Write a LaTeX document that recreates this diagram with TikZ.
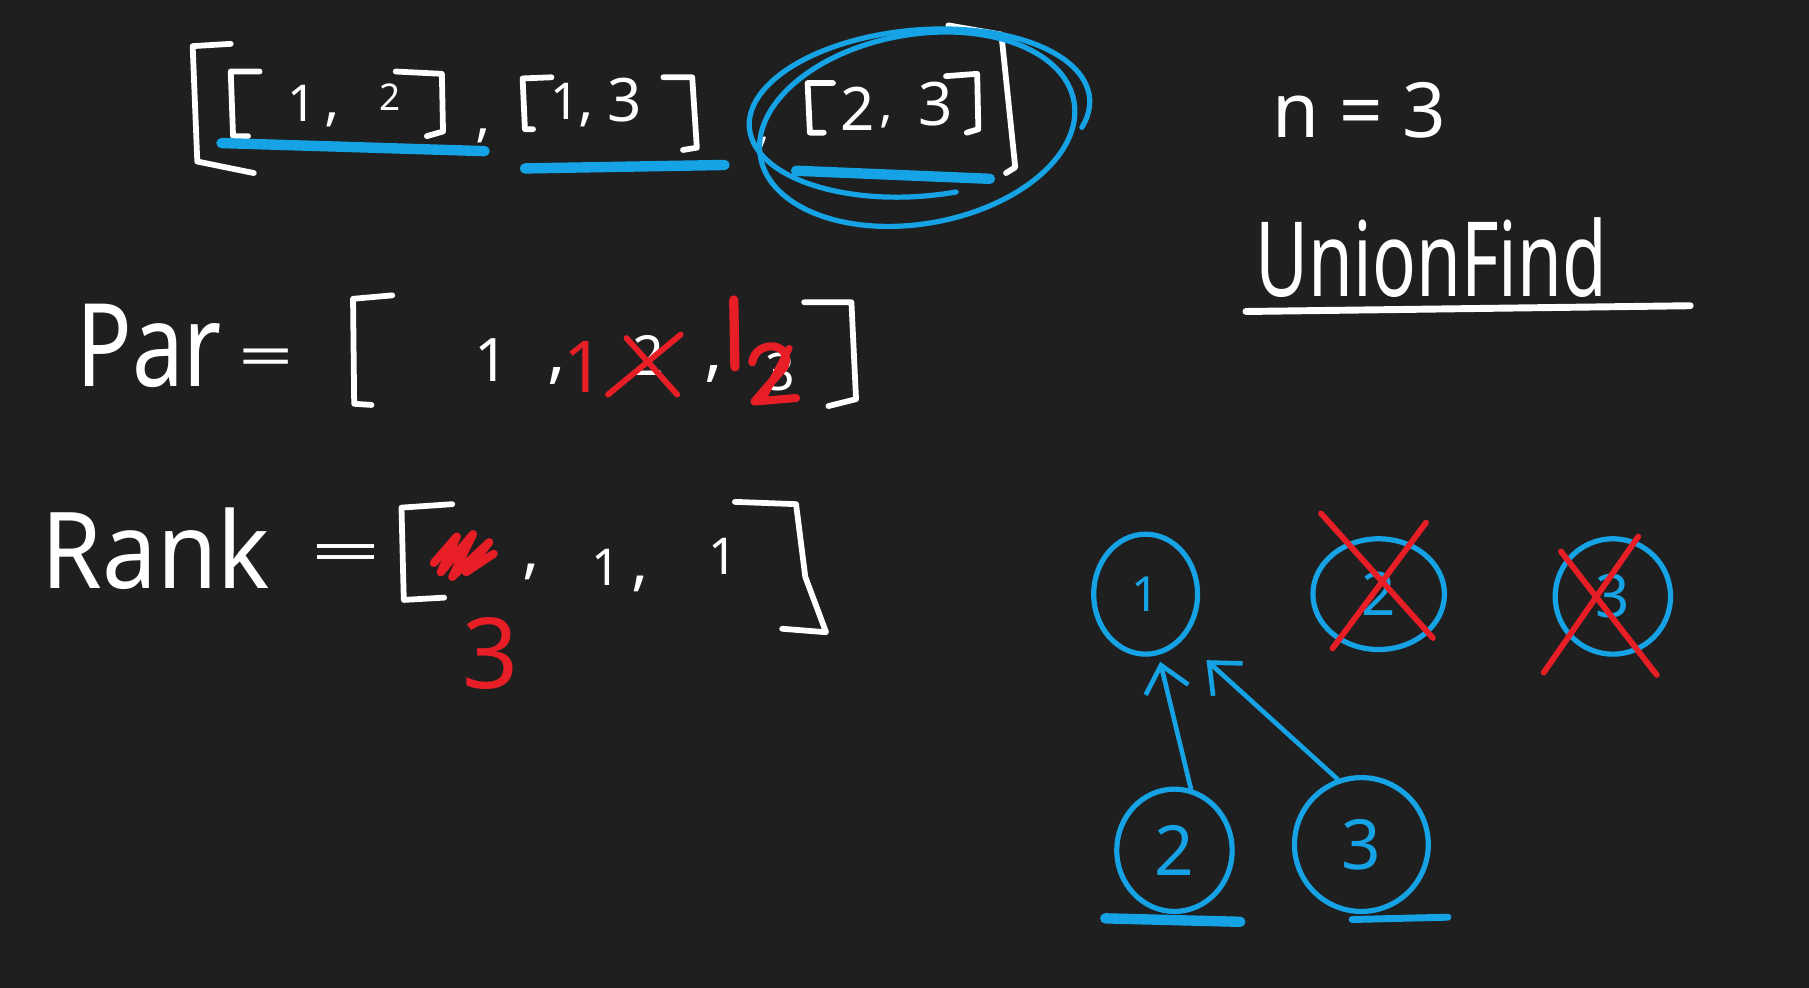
\documentclass[tikz,border=0pt]{standalone}
\usepackage{fontspec}
\setmainfont{Noto Sans}
\usetikzlibrary{shapes.geometric,arrows.meta}
\definecolor{bg}{RGB}{31,31,31}
\definecolor{pblue}{RGB}{22,163,230}
\definecolor{pred}{RGB}{232,30,38}
\newcommand\hfs[1]{\fontsize{#1}{#1}\selectfont}
\begin{document}
\begin{tikzpicture}[x=1pt,y=-1pt,
  wline/.style={draw=white,line width=5pt,line cap=round,line join=round},
  bline/.style={draw=pblue,line width=4.5pt,line cap=round},
  bthick/.style={draw=pblue,line width=9pt,line cap=round},
  rline/.style={draw=pred,line width=5pt,line cap=round,line join=round},
  wtxt/.style={text=white,inner sep=0pt},
  rtxt/.style={text=pred,inner sep=0pt},
  gnode/.style={ellipse,draw=pblue,line width=4.5pt,text=pblue,inner sep=0pt},
  garrow/.style={draw=pblue,line width=4pt,line cap=round,line join=round,-{Straight Barb[length=22pt,width=38pt,line width=4pt]}}]
\fill[bg] (0,0) rectangle (1568,856);
\useasboundingbox (0,0) rectangle (1568,856);

% ---------- top row ----------
\draw[wline] (200,38) -- (167,40) -- (171,140) -- (220,150);
\draw[wline] (225,62) -- (200,62) -- (202,118) -- (215,118);
\node[wtxt,font=\hfs{44}] (a1) at (262,90) {1};
\node[wtxt,font=\hfs{50}] (c1) at (288,104) {,};
\node[wtxt,font=\hfs{32}] (a2) at (338,84) {2};
\draw[wline] (343,62) -- (383,64) -- (384,114) -- (370,118);
\node[wtxt,font=\hfs{50}] (c2) at (419,118) {,};
\draw[bthick] (192,124) -- (420,131);

\draw[wline] (478,67) -- (453,68) -- (455,112) -- (462,112);
\node[wtxt,font=\hfs{44}] (b1) at (490,88) {1};
\node[wtxt,font=\hfs{50}] (c3) at (508,104) {,};
\node[wtxt,font=\hfs{52}] (b3) at (541,87) {3};
\draw[wline] (575,67) -- (600,67) -- (604,128) -- (592,130);
\draw[bthick] (455,146) -- (628,143);
\node[wtxt,font=\hfs{40}] (c4) at (662,124) {,};

\draw[wline] (722,72) -- (700,72) -- (702,115) -- (714,115);
\node[wtxt,font=\hfs{52}] (d2) at (743,94) {2};
\node[wtxt,font=\hfs{44}] (c5) at (768,106) {,};
\node[wtxt,font=\hfs{52}] (d3) at (811,90) {3};
\draw[wline] (820,66) -- (847,64) -- (848,112) -- (838,115);
\draw[bthick] (690,148) -- (858,155);
\draw[wline] (822,22) -- (868,30) -- (880,145) -- (872,150);

\draw[bline,rotate around={10:(795,112)}] (795,112) ellipse [x radius=138, y radius=82];
\begin{scope}[shift={(797,98)},rotate=5]
\draw[bline] (80:148 and 72) arc[start angle=80,end angle=380,x radius=148,y radius=72];
\end{scope}

% ---------- right top ----------
\node[wtxt,font=\hfs{66},anchor=base] (nn) at (1178,119) {n = 3};
\node[wtxt,font=\hfs{90},anchor=base west] (uf) at (1088,257) {\scalebox{0.7}[1]{UnionFind}};
\draw[wline,line width=6pt] (1080,270) -- (1465,265);

% ---------- Par row ----------
\node[wtxt,font=\hfs{100},anchor=base west] (par) at (66,335) {\scalebox{0.8}[1]{Par}};
\node[wtxt,font=\hfs{70}] (peq) at (231,314) {\scalebox{1.2}[0.7]{=}};
\draw[wline] (340,256) -- (306,259) -- (307,350) -- (322,351);
\node[wtxt,font=\hfs{52}] (p1) at (426,312) {1};
\node[wtxt,font=\hfs{60}] (pc1) at (483,326) {,};
\node[rtxt,font=\hfs{62}\bfseries] (pr1) at (506,318) {1};
\node[wtxt,font=\hfs{48}] (p2) at (562,308) {2};
\draw[rline] (527,342) -- (590,290);
\draw[rline] (543,293) -- (587,342);
\node[wtxt,font=\hfs{60}] (pc2) at (619,324) {,};
\draw[rline,line width=8pt] (636,260) -- (637,318);
\node[wtxt,font=\hfs{45}] (p3) at (676,322) {3};
\draw[rline,line width=7pt] (652,314) .. controls (655,294) and (688,296) .. (680,318) -- (654,348) -- (690,345);
\draw[rline,line width=6pt] (684,302) -- (662,344);
\draw[wline] (697,262) -- (738,262) -- (742,346) -- (718,352);

% ---------- Rank row ----------
\node[wtxt,font=\hfs{92},anchor=base west] (rank) at (36,510) {\scalebox{0.92}[1]{Rank}};
\node[wtxt,font=\hfs{80}] (req) at (300,484) {\scalebox{1.35}[0.6]{=}};
\draw[wline] (392,437) -- (348,440) -- (350,520) -- (385,518);
\draw[rline,line width=7pt] (376,488) -- (396,465) -- (382,496) -- (410,463) -- (392,500) -- (424,470) -- (404,496) -- (428,480);
\node[wtxt,font=\hfs{56}] (rc1) at (460,496) {,};
\node[wtxt,font=\hfs{44}] (r1) at (525,492) {1};
\node[wtxt,font=\hfs{56}] (rc2) at (555,506) {,};
\node[wtxt,font=\hfs{44}] (r2) at (627,482) {1};
\draw[wline] (637,435) -- (690,437) -- (698,500) -- (716,548) -- (678,545);
\node[rtxt,font=\hfs{85}] (r3) at (425,566) {3};

% ---------- graph ----------
\node[gnode,minimum width=90,minimum height=104,font=\hfs{42}] (n1) at (993,515) {1};
\node[gnode,minimum width=114,minimum height=96,font=\hfs{52}] (n2) at (1195,515) {2};
\node[gnode,minimum width=100,minimum height=100,font=\hfs{52}] (n3) at (1398,517) {3};
\node[gnode,minimum width=100,minimum height=106,font=\hfs{60}] (m2) at (1018,737) {2};
\node[gnode,minimum width=116,minimum height=116,font=\hfs{60}] (m3) at (1180,732) {3};

\draw[rline] (1145,445) -- (1242,553);
\draw[rline] (1236,453) -- (1155,562);
\draw[rline] (1353,478) -- (1436,585);
\draw[rline] (1420,465) -- (1338,583);

\draw[garrow,shorten >=6pt] (m2.75) -- (n1.-78);
\draw[garrow,shorten >=27pt] (m3.110) -- (n1.-50);

\draw[bthick] (958,796) -- (1075,799);
\draw[bthick,line width=6pt] (1172,797) -- (1255,795);
\end{tikzpicture}
\end{document}
